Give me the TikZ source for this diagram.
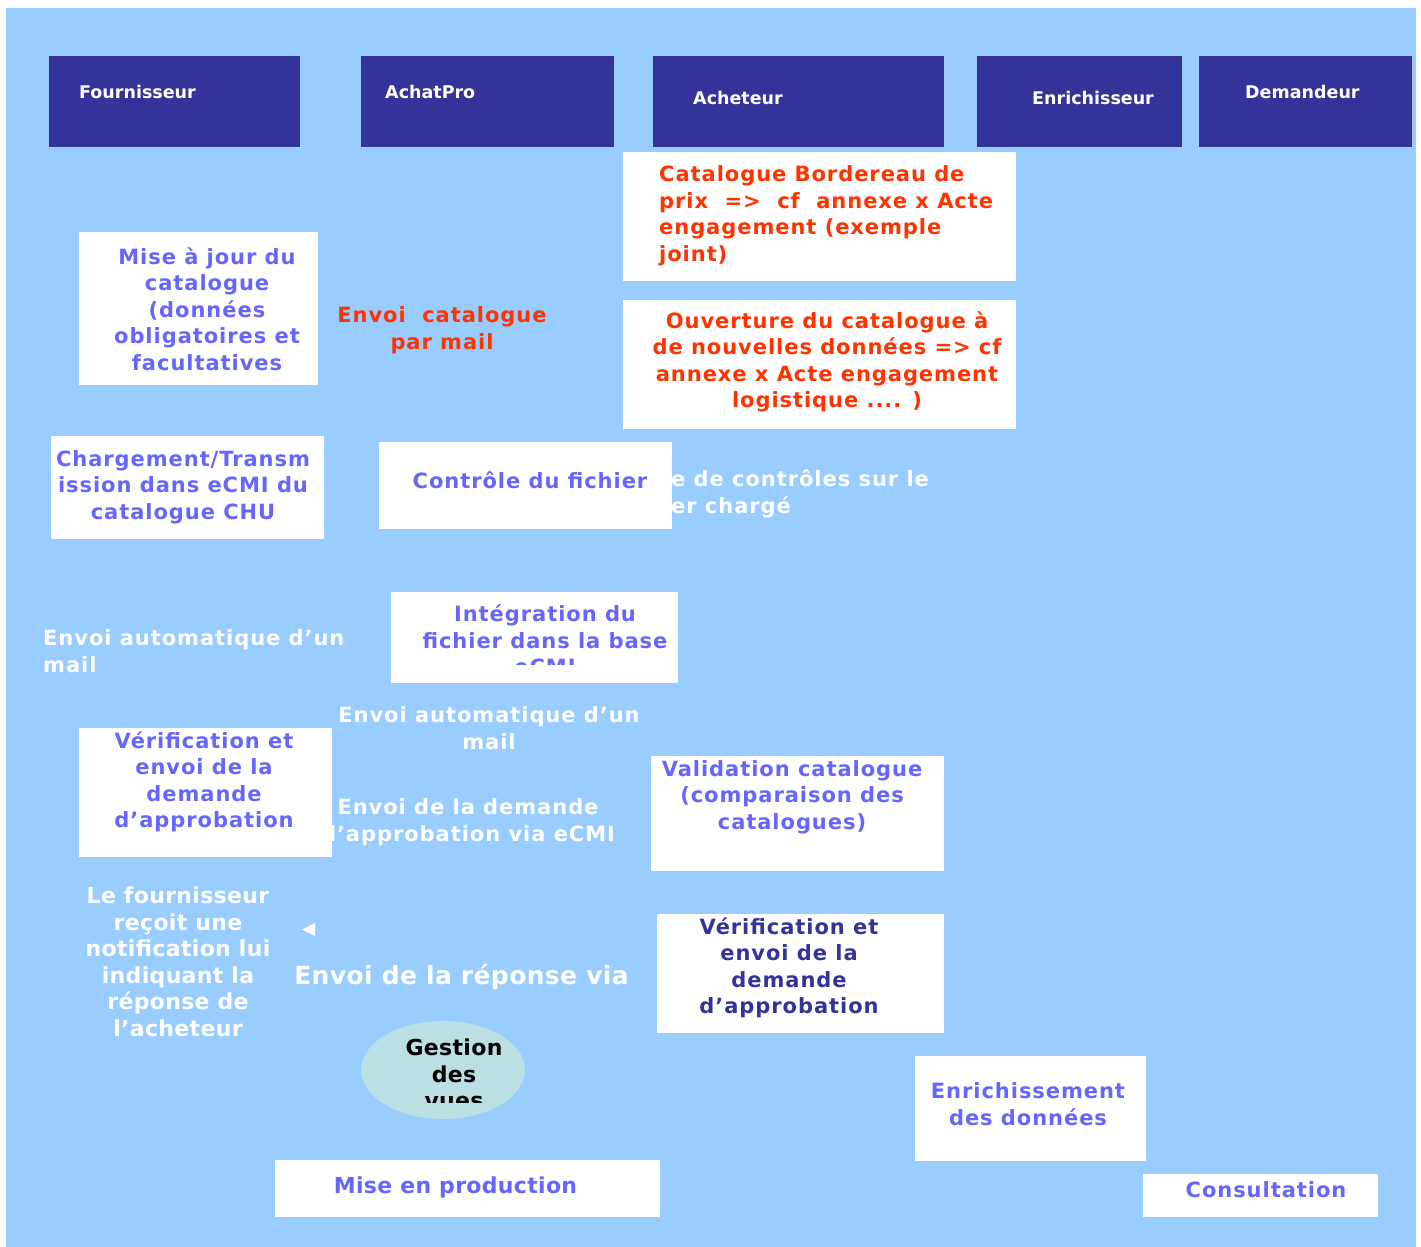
\documentclass[tikz,border=0pt]{standalone}
\usepackage{fontspec}
\usetikzlibrary{shapes.geometric}
\setmainfont{DejaVu Sans}
\newfontfamily\vfont[LetterSpace=4.5]{DejaVu Sans}
\newfontfamily\tfont[LetterSpace=1.5]{DejaVu Sans}
\newfontfamily\hfont{DejaVu Sans}
\definecolor{bgblue}{HTML}{99CCFF}
\definecolor{headblue}{HTML}{333399}
\definecolor{redtxt}{HTML}{FF3300}
\definecolor{bluetxt}{HTML}{6666FF}
\definecolor{darktxt}{HTML}{333399}
\definecolor{ellfill}{HTML}{BBE0E3}
\tikzset{
  head/.style={fill=headblue, draw=none, anchor=north west, inner sep=0},
  wbox/.style={fill=white, draw=none, anchor=north west, inner sep=0},
  htext/.style={font=\hfont\bfseries\fontsize{17.5}{20}\selectfont, text=white, inner sep=0, anchor=west},
  vtext/.style={font=\vfont\bfseries\fontsize{21}{26.5}\selectfont, align=center, inner sep=0},
  ttext/.style={font=\tfont\bfseries\fontsize{22}{26.5}\selectfont, align=center, inner sep=0},
}
\begin{document}
\begin{tikzpicture}[x=1pt,y=-1pt]
\useasboundingbox (0,0) rectangle (1421,1247);
\fill[bgblue] (6,8) rectangle (1416,1247);

% header boxes
\node[head, minimum width=251, minimum height=91] (hF) at (49,56) {};
\node[head, minimum width=253, minimum height=91] (hA) at (361,56) {};
\node[head, minimum width=291, minimum height=91] (hAc) at (653,56) {};
\node[head, minimum width=205, minimum height=91] (hE) at (977,56) {};
\node[head, minimum width=213, minimum height=91] (hD) at (1199,56) {};
\node[htext] (tF) at (79,92) {Fournisseur};
\node[htext] (tA) at (385,92) {AchatPro};
\node[htext] (tAc) at (693,98) {Acheteur};
\node[htext] (tE) at (1032,98) {Enrichisseur};
\node[htext] (tD) at (1245,92) {Demandeur};

% Acheteur red boxes
\node[wbox, minimum width=393, minimum height=129] (bCat) at (623,152) {};
\node[vtext, text=redtxt, align=left, anchor=west] (tCat) at (659,216)
  {Catalogue Bordereau de\\prix\ \ =>\ \ cf\ \ annexe x Acte\\engagement\ (exemple\\joint)};
\node[wbox, minimum width=393, minimum height=129] (bOuv) at (623,300) {};
\node[vtext, text=redtxt] (tOuv) at (827,362)
  {Ouverture du catalogue à\\de nouvelles données => cf\\annexe x Acte engagement\\logistique .... )};

% Mise a jour
\node[wbox, minimum width=239, minimum height=153] (bMaj) at (79,232) {};
\node[vtext, text=bluetxt] (tMaj) at (207,309)
  {Mise à jour du\\catalogue\\(données\\obligatoires et\\facultatives};
\node[vtext, text=redtxt] (tEnv) at (442,330) {Envoi\ \ catalogue\\par mail};

% Chargement
\node[wbox, minimum width=273, minimum height=103] (bCh) at (51,436) {};
\begin{scope}
  \clip (51,436) rectangle (313,539);
  \node[vtext, text=bluetxt] (tCh) at (183,487)
    {Chargement/Transm\\ission dans eCMI du\\catalogue CHU};
\end{scope}

% Controle
\node[wbox, minimum width=293, minimum height=87] (bCo) at (379,442) {};
\node[vtext, text=bluetxt] (tCo) at (530,480) {Contrôle du fichier};
\node[vtext, text=white, align=left, anchor=west] (tSe) at (671,494)
  {e de contrôles sur le\\er chargé};

% Integration
\node[wbox, minimum width=287, minimum height=91] (bIn) at (391,592) {};
\begin{scope}
  \clip (391,592) rectangle (678,664);
  \node[vtext, text=bluetxt] (tIn) at (545,640)
    {Intégration du\\fichier dans la base\\eCMI};
\end{scope}

\node[vtext, text=white, align=left, anchor=west] (tAuto1) at (43,651)
  {Envoi automatique d’un\\mail};
\node[vtext, text=white] (tAuto2) at (489,728)
  {Envoi automatique d’un\\mail};

% Envoi de la demande (partly behind box)
\node[vtext, text=white] (tDem) at (468,822)
  {Envoi de la demande\\d’approbation via eCMI};

% Verification left
\node[wbox, minimum width=253, minimum height=129] (bVer1) at (79,728) {};
\node[vtext, text=bluetxt] (tVer1) at (204,782)
  {Vérification et\\envoi de la\\demande\\d’approbation};

% Validation
\node[wbox, minimum width=293, minimum height=115] (bVal) at (651,756) {};
\node[vtext, text=bluetxt] (tVal) at (792,797)
  {Validation catalogue\\(comparaison des\\catalogues)};

% Verification right
\node[wbox, minimum width=287, minimum height=119] (bVer2) at (657,914) {};
\node[vtext, text=darktxt] (tVer2) at (789,968)
  {Vérification et\\envoi de la\\demande\\d’approbation};

% Le fournisseur recoit
\node[ttext, text=white] (tRec) at (178,962)
  {Le fournisseur\\reçoit une\\notification lui\\indiquant la\\réponse de\\l’acheteur};
\fill[white] (302,929.5) -- (315,923) -- (315,936) -- cycle;
\node[font=\tfont\bfseries\fontsize{25}{28}\selectfont, text=white, inner sep=0] (tRep) at (461.5,977)
  {Envoi de la réponse via};

% Gestion des vues
\node[ellipse, fill=ellfill, draw=none, minimum width=164, minimum height=98, inner sep=0] (gv) at (443,1070) {};
\begin{scope}
  \clip (361,1021) rectangle (525,1102);
  \node[ttext, text=black] (tGv) at (454,1074) {Gestion\\des\\vues};
\end{scope}

% Mise en production
\node[wbox, minimum width=385, minimum height=57] (bMep) at (275,1160) {};
\node[ttext, text=bluetxt] (tMep) at (455.5,1187) {Mise en production};

% Enrichissement
\node[wbox, minimum width=231, minimum height=105] (bEnr) at (915,1056) {};
\node[vtext, text=bluetxt] (tEnr) at (1028,1104) {Enrichissement\\des données};

% Consultation
\node[wbox, minimum width=235, minimum height=43] (bCons) at (1143,1174) {};
\node[vtext, text=bluetxt] (tCons) at (1266,1190) {Consultation};
\end{tikzpicture}
\end{document}
